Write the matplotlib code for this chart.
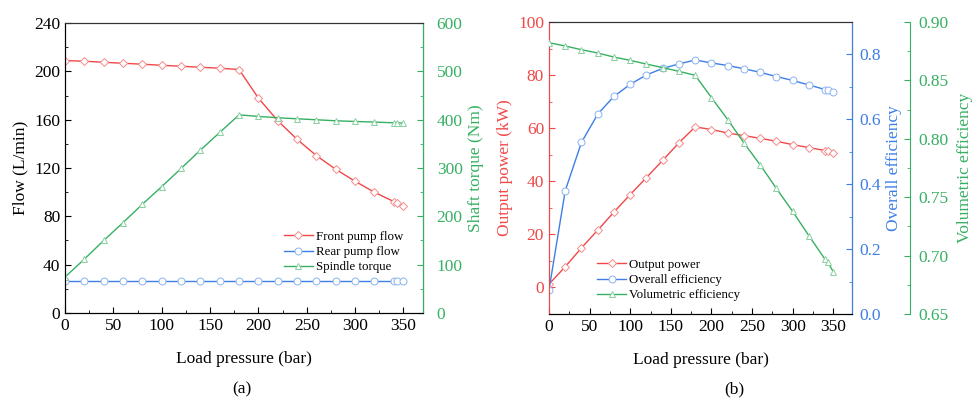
import matplotlib
matplotlib.use("Agg")
import matplotlib.pyplot as plt
from matplotlib.ticker import MultipleLocator, FormatStrFormatter

plt.rcParams['font.family'] = ['Liberation Serif', 'DejaVu Serif']
plt.rcParams['mathtext.fontset'] = 'stix'
SERIF = ['Liberation Serif', 'DejaVu Serif']

RED = '#F04848'
BLUE = '#3D7FE6'
GREEN = '#36B062'

# Shared load pressure (bar)
pressure = [0, 20, 40, 60, 80, 100, 120, 140, 160, 180, 200, 220, 240, 260, 280, 300, 320, 340, 343, 350]

# Panel (a)
front_flow = [208.9, 208.4, 207.5, 206.7, 205.9, 205.0, 204.2, 203.4, 202.6, 201.5,
              177.8, 159.1, 143.7, 130.2, 118.9, 109.0, 99.9, 92.2, 91.4, 88.6]
rear_flow = [26.5] * 20
spindle_torque = [74.3, 111.5, 150.0, 187.0, 225.0, 261.5, 299.0, 337.0, 373.6, 410.0,
                  406.7, 404.0, 401.8, 399.8, 397.7, 396.3, 395.0, 393.6, 393.4, 392.9]

# Panel (b)
output_power = [1.25, 7.8, 14.9, 21.6, 28.4, 35.0, 41.4, 47.9, 54.5, 60.5,
                59.5, 58.2, 57.2, 56.2, 55.1, 53.8, 52.7, 51.6, 51.4, 50.8]
overall_eff = [0.074, 0.380, 0.529, 0.616, 0.671, 0.708, 0.737, 0.757, 0.771, 0.783,
               0.774, 0.766, 0.756, 0.745, 0.732, 0.720, 0.706, 0.692, 0.690, 0.684]
vol_eff = [0.8823, 0.8795, 0.8763, 0.8735, 0.8700, 0.8672, 0.8640, 0.8610, 0.8578, 0.8544,
           0.8353, 0.8165, 0.7965, 0.7777, 0.7575, 0.7378, 0.7170, 0.6967, 0.6945, 0.6862]

FS = 12.5
LFS = 9.3
fig = plt.figure(figsize=(9.72, 4.01), dpi=100)

mk = dict(markersize=5, markerfacecolor='white', markeredgewidth=0.7, linewidth=1.0)
leg_kw = dict(frameon=False, handlelength=2.2, labelspacing=0.25, borderpad=0.2,
              handletextpad=0.25, prop={'family': SERIF, 'size': LFS})

def style_x(ax):
    ax.set_xlim(0, 370)
    ax.xaxis.set_major_locator(MultipleLocator(50))
    ax.xaxis.set_minor_locator(MultipleLocator(25))
    ax.tick_params(axis='x', which='both', direction='in', top=False, labelsize=FS)
    ax.tick_params(axis='x', which='major', length=4)
    ax.tick_params(axis='x', which='minor', length=2.5)
    ax.set_xlabel('Load pressure (bar)', fontsize=FS, family=SERIF, labelpad=12)
    ax.spines['top'].set_color('#333333')

def style_y(ax, color, pad):
    ax.tick_params(axis='y', which='both', direction='in', colors=color, labelsize=FS, pad=pad)
    ax.tick_params(axis='y', which='major', length=4)
    ax.tick_params(axis='y', which='minor', length=2.5)

# ---------- Panel (a) ----------
ax1 = fig.add_axes([0.0669, 0.2195, 0.3681, 0.7231])
ax1r = ax1.twinx()
l1, = ax1.plot(pressure, front_flow, color=RED, marker='D', markeredgecolor='#F58C8C', label='Front pump flow', **mk)
l1.set_markersize(4.3)
l2, = ax1.plot(pressure, rear_flow, color=BLUE, marker='o', markeredgecolor='#8AB2F0', label='Rear pump flow', **mk)
l3, = ax1r.plot(pressure, spindle_torque, color=GREEN, marker='^', markeredgecolor='#88D0A0', label='Spindle torque', **mk)
style_x(ax1)
ax1.set_ylim(0, 240)
ax1.yaxis.set_major_locator(MultipleLocator(40))
ax1.yaxis.set_minor_locator(MultipleLocator(20))
style_y(ax1, 'black', 3.5)
ax1.set_ylabel('Flow (L/min)', fontsize=FS, family=SERIF)
ax1r.set_ylim(0, 600)
ax1r.yaxis.set_major_locator(MultipleLocator(100))
ax1r.yaxis.set_minor_locator(MultipleLocator(50))
style_y(ax1r, GREEN, 10)
ax1r.spines['right'].set_color(GREEN)
ax1r.spines['top'].set_color('#333333')
ax1r.set_ylabel('Shaft torque (Nm)', fontsize=FS, family=SERIF, color=GREEN)
ax1r.legend(handles=[l1, l2, l3], loc='lower right', bbox_to_anchor=(0.97, 0.105), **leg_kw)
fig.text(0.249, 0.02, '(a)', ha='center', fontsize=FS, family=SERIF)

# ---------- Panel (b) ----------
ax2 = fig.add_axes([0.5648, 0.217, 0.3117, 0.728])
ax2b = ax2.twinx()
ax2g = ax2.twinx()
ax2g.spines['right'].set_position(('axes', 1.193))
p1, = ax2.plot(pressure, output_power, color=RED, marker='D', markeredgecolor='#F58C8C', label='Output power', **mk)
p1.set_markersize(4.3)
p2, = ax2b.plot(pressure, overall_eff, color=BLUE, marker='o', markeredgecolor='#8AB2F0', label='Overall efficiency', **mk)
p3, = ax2g.plot(pressure, vol_eff, color=GREEN, marker='^', markeredgecolor='#88D0A0', label='Volumetric efficiency', **mk)
style_x(ax2)
ax2.set_xlim(0, 373)
ax2.set_ylim(-10, 100)
ax2.yaxis.set_major_locator(MultipleLocator(20))
ax2.yaxis.set_minor_locator(MultipleLocator(10))
style_y(ax2, RED, 3.5)
ax2.spines['left'].set_color(RED)
ax2.set_ylabel('Output power (kW)', fontsize=FS, family=SERIF, color=RED)

ax2b.set_ylim(0, 0.9)
ax2b.yaxis.set_major_locator(MultipleLocator(0.2))
ax2b.yaxis.set_minor_locator(MultipleLocator(0.1))
ax2b.yaxis.set_major_formatter(FormatStrFormatter('%.1f'))
style_y(ax2b, BLUE, 5)
ax2b.spines['right'].set_color(BLUE)
ax2b.spines['left'].set_color(RED)
ax2b.spines['top'].set_color('#333333')
ax2b.set_ylabel('Overall efficiency', fontsize=FS, family=SERIF, color=BLUE, labelpad=4)

ax2g.set_ylim(0.65, 0.90)
ax2g.yaxis.set_major_locator(MultipleLocator(0.05))
ax2g.yaxis.set_minor_locator(MultipleLocator(0.025))
ax2g.yaxis.set_major_formatter(FormatStrFormatter('%.2f'))
style_y(ax2g, GREEN, 5.5)
ax2g.spines['right'].set_color(GREEN)
ax2g.spines['left'].set_visible(False)
ax2g.spines['top'].set_visible(False)
ax2g.spines['bottom'].set_visible(False)
ax2g.set_ylabel('Volumetric efficiency', fontsize=FS, family=SERIF, color=GREEN, labelpad=6)

ax2g.legend(handles=[p1, p2, p3], loc='lower left', bbox_to_anchor=(0.13, 0.012), **leg_kw)
fig.text(0.755, 0.02, '(b)', ha='center', fontsize=FS, family=SERIF)

fig.savefig('out.png', dpi=100)
